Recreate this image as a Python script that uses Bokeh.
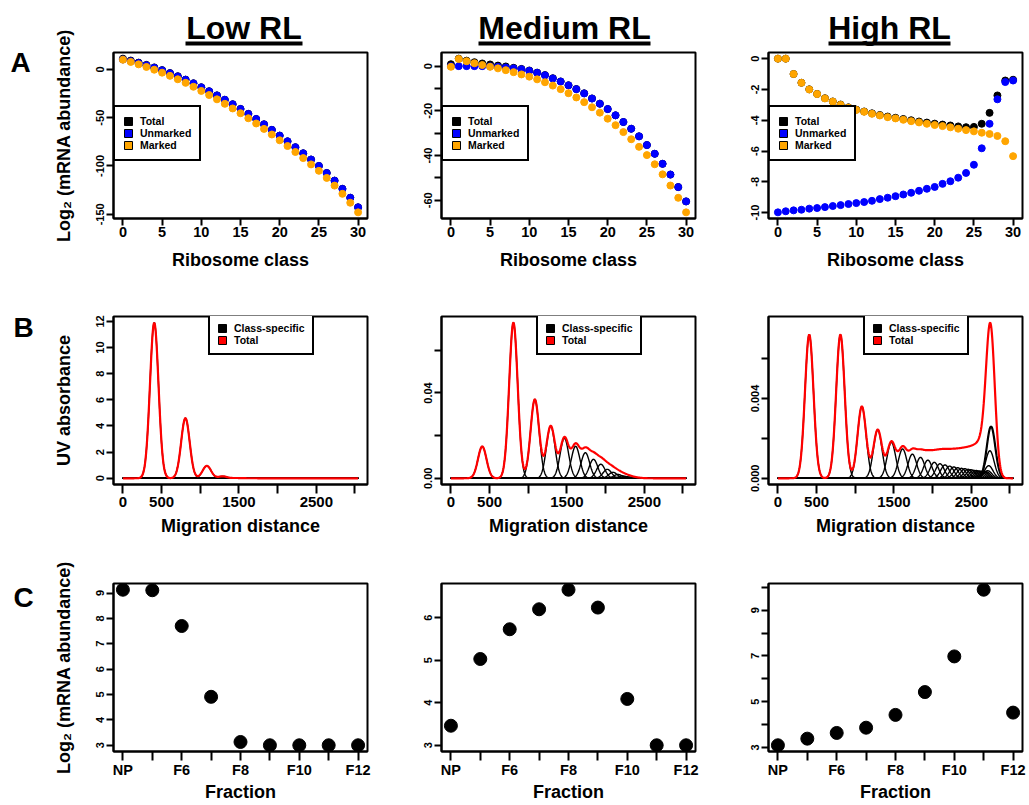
import numpy as np
from bokeh.plotting import figure
from bokeh.models import Range1d, FixedTicker, Legend, LegendItem
from bokeh.core.properties import value
from bokeh.layouts import column, row
from bokeh.embed import file_html
from bokeh.resources import INLINE

FONT = "Liberation Sans"

# ---------------- Row A: log2 abundance per ribosome class ----------------
ribosome_class = list(range(31))

low_total = [11.1, 9.15, 6.99, 4.64, 2.05, -0.75, -3.79, -7.08, -10.6, -14.38, -18.49,
             -22.6, -26.91, -31.42, -36.08, -40.93, -46.04, -51.34, -56.85, -62.6, -68.55,
             -74.45, -80.55, -86.85, -93.3, -99.95, -107.25, -115.15, -123.65, -132.85, -142.75]
low_unmarked = [10.2, 8.5, 6.5, 4.25, 1.75, -1.0, -4.0, -7.25, -10.75, -14.5, -18.6,
                -22.7, -27.0, -31.5, -36.15, -41.0, -46.1, -51.4, -56.9, -62.65, -68.6,
                -74.5, -80.6, -86.9, -93.35, -100.0, -107.3, -115.2, -123.7, -132.9, -142.8]
low_marked = [10.0, 7.7, 5.2, 2.55, -0.35, -3.4, -6.7, -10.25, -13.95, -18.0, -22.3,
              -26.55, -31.0, -35.65, -40.45, -45.4, -50.6, -56.0, -61.6, -67.4, -73.4,
              -79.35, -85.5, -91.85, -98.35, -105.0, -112.35, -120.3, -128.8, -138.05, -148.0]

med_total = [0.86, 3.35, 2.45, 1.75, 1.2, 0.75, 0.25, -0.15, -0.75, -1.25, -1.95,
             -2.9, -4.0, -5.4, -6.85, -8.55, -10.25, -12.15, -14.45, -16.8, -19.2,
             -22.0, -25.0, -28.0, -31.4, -35.3, -39.2, -43.7, -48.5, -54.1, -60.5]
med_unmarked = [0.0, 0.0, 0.0, 0.0, 0.0, -0.1, -0.3, -0.6, -1.0, -1.4, -2.1,
                -3.0, -4.1, -5.5, -6.9, -8.6, -10.3, -12.2, -14.5, -16.8, -19.2,
                -22.0, -25.0, -28.0, -31.4, -35.3, -39.2, -43.7, -48.5, -54.1, -60.5]
med_marked = [-0.3, 3.2, 2.2, 1.3, 0.5, -0.3, -1.0, -1.8, -2.7, -3.7, -4.7,
              -5.9, -7.2, -8.7, -10.3, -12.1, -14.0, -16.1, -18.4, -20.8, -23.5,
              -26.4, -29.5, -32.7, -36.1, -39.8, -43.9, -48.4, -53.4, -58.9, -65.4]

high_total = [0.0, 0.0, -0.997, -1.566, -1.993, -2.29, -2.57, -2.78, -2.98, -3.16, -3.31,
              -3.43, -3.55, -3.66, -3.76, -3.84, -3.92, -4.0, -4.08, -4.15, -4.22,
              -4.28, -4.34, -4.40, -4.45, -4.43, -4.23, -3.52, -2.39, -1.42, -1.37]
high_unmarked = [-9.98, -9.91, -9.85, -9.81, -9.74, -9.70, -9.64, -9.57, -9.51, -9.44, -9.38,
                 -9.31, -9.23, -9.12, -9.03, -8.93, -8.82, -8.71, -8.58, -8.45, -8.33,
                 -8.13, -7.96, -7.73, -7.42, -6.89, -5.82, -4.23, -2.64, -1.52, -1.42]
high_marked = [0.0, 0.0, -1.0, -1.57, -2.0, -2.3, -2.58, -2.79, -3.0, -3.18, -3.33,
               -3.45, -3.58, -3.69, -3.8, -3.88, -3.97, -4.06, -4.14, -4.23, -4.31,
               -4.38, -4.46, -4.55, -4.64, -4.72, -4.81, -4.89, -5.02, -5.36, -6.33]

# ---------------- Row B: simulated UV profiles (one peak per class) ----------------
class_position = [405, 808, 1085, 1290, 1467, 1612, 1738, 1843, 1938, 2022, 2095,
                  2160, 2220, 2275, 2326, 2373, 2417, 2458, 2496, 2531, 2563,
                  2593, 2620, 2645, 2668, 2690, 2710, 2725, 2740, 2750, 2760]
peak_sd = 55
migration_max = 3040

low_peak = [11.9, 4.6, 0.95, 0.15, 0.02, 0.003, 0.0, 0.0, 0.0, 0.0, 0.0,
            0.0, 0.0, 0.0, 0.0, 0.0, 0.0, 0.0, 0.0, 0.0, 0.0,
            0.0, 0.0, 0.0, 0.0, 0.0, 0.0, 0.0, 0.0, 0.0, 0.0]
med_peak = [0.0149, 0.073, 0.037, 0.0245, 0.0188, 0.015, 0.012, 0.0089, 0.0066, 0.0042, 0.0028,
            0.0018, 0.0011, 0.0007, 0.0004, 0.0002, 0.0001, 0.00005, 0.0, 0.0, 0.0,
            0.0, 0.0, 0.0, 0.0, 0.0, 0.0, 0.0, 0.0, 0.0, 0.0]
high_peak = [0.0072, 0.0072, 0.0036, 0.00243, 0.0018, 0.00147, 0.00121, 0.00105, 0.00091, 0.0008, 0.00073,
             0.00067, 0.00061, 0.00057, 0.00053, 0.0005, 0.00048, 0.00045, 0.00043, 0.0004, 0.00039,
             0.00037, 0.00036, 0.00034, 0.00033, 0.00033, 0.00038, 0.00063, 0.00138, 0.0026, 0.0026]

# ---------------- Row C: measured fractions ----------------
fractions = ["NP", "F5", "F6", "F7", "F8", "F9", "F10", "F11", "F12"]
fraction_shown = ["NP", "", "F6", "", "F8", "", "F10", "", "F12"]
low_fraction = [9.13, 9.11, 7.7, 4.91, 3.13, 3.0, 3.0, 3.0, 3.0]
med_fraction = [3.46, 5.03, 5.73, 6.2, 6.66, 6.24, 4.09, 3.0, 3.0]
high_fraction = [3.09, 3.38, 3.63, 3.86, 4.42, 5.42, 6.98, 9.9, 4.52]

# ---------------- ticks ----------------
a_xticks = [0, 5, 10, 15, 20, 25, 30]
a_yticks = [[-150, -100, -50, 0], [-60, -50, -40, -30, -20, -10, 0], [-10, -8, -6, -4, -2, 0]]
a_ylabels = [["-150", "-100", "-50", "0"], ["-60", "", "-40", "", "-20", "", "0"],
             ["-10", "-8", "-6", "-4", "-2", "0"]]
b_xticks = [0, 500, 1000, 1500, 2000, 2500, 3000]
b_xlabels = ["0", "500", "", "1500", "", "2500", ""]
b_yticks = [[0, 2, 4, 6, 8, 10, 12], [0, 0.02, 0.04, 0.06], [0, 0.002, 0.004, 0.006]]
b_ylabels = [["0", "2", "4", "6", "8", "10", "12"], ["0.00", "", "0.04", ""], ["0.000", "", "0.004", ""]]
c_yticks = [[3, 4, 5, 6, 7, 8, 9], [3, 4, 5, 6], [3, 4, 5, 6, 7, 8, 9, 10]]
c_ylabels = [["3", "4", "5", "6", "7", "8", "9"], ["3", "4", "5", "6"], ["3", "", "5", "", "7", "", "9", ""]]

titles = ["Low RL", "Medium RL", "High RL"]
panel_letters = ["A", "B", "C"]
row_ylabels = ["Log\u2082 (mRNA abundance)", "UV absorbance", "Log\u2082 (mRNA abundance)"]

# ---------------- layout geometry (page pixels) ----------------
PAGE_W, PAGE_H, HEADER_H, STRIP_W = 1029, 805, 48, 80
col_w = [320, 330, 299]
col_l = [33, 41, 38]
col_r = [33, 35, 7]
row_h = [232, 270, 255]
row_t = [4, 36, 33]
row_b = [62, 66, 54]
x_tick_out = [7, 9, 9]
x_lab_stand = [1, 3, 1]
x_title_stand = [10, 6, 1]
x_tick_font = ["14.5px", "15px", "14.5px"]
# text anchors (the svg text is drawn centred on its anchor)
title_cx = [243.5, 564, 889]
title_cy = 27
title_span = [(185, 302), (478, 650), (828, 950)]
uline_top, uline_bot = 41, 45
letter_cx = [20, 23, 23]
letter_cy = [62, 327, 597]
ylabel_x = 63
ylabel_cy = [135, 400, 667]


def padded(lo, hi):
    s = hi - lo
    return (lo - 0.04 * s, hi + 0.04 * s)


def make_fig(r, c, xr, yr):
    p = figure(width=col_w[c], height=row_h[r], x_range=Range1d(*xr), y_range=Range1d(*yr),
               output_backend="svg", toolbar_location=None, title=None,
               min_border_left=col_l[c], min_border_right=col_r[c],
               min_border_top=row_t[r], min_border_bottom=row_b[r])
    p.xgrid.visible = False
    p.ygrid.visible = False
    p.outline_line_color = "black"
    p.outline_line_width = 2
    p.outline_line_alpha = 1
    p.background_fill_color = "white"
    p.border_fill_color = "white"
    for ax in (p.xaxis[0], p.yaxis[0]):
        ax.axis_line_color = "black"
        ax.axis_line_width = 2
        ax.major_tick_line_color = "black"
        ax.major_tick_line_width = 2
        ax.major_tick_in = 0
        ax.minor_tick_line_color = None
        ax.major_label_text_font = FONT
        ax.major_label_text_font_style = "bold"
        ax.major_label_text_color = "black"
        ax.axis_label_text_font = FONT
        ax.axis_label_text_font_style = "bold"
        ax.axis_label_text_font_size = "18px"
        ax.axis_label_text_color = "black"
    xa = p.xaxis[0]
    xa.major_label_text_font_size = x_tick_font[r]
    xa.major_tick_out = x_tick_out[r]
    xa.major_label_standoff = x_lab_stand[r]
    xa.axis_label_standoff = x_title_stand[r]
    ya = p.yaxis[0]
    ya.major_label_text_font_size = "11px"
    ya.major_label_orientation = "vertical"
    ya.major_tick_out = 7
    ya.major_label_standoff = 2
    return p


def set_ticks(axis, ticks, labels):
    axis.ticker = FixedTicker(ticks=ticks)
    axis.major_label_overrides = {t: l for t, l in zip(ticks, labels)}


def add_legend(p, entries, loc, pad):
    items = []
    for lab, colr in entries:
        rr = p.quad(left=[np.nan], right=[np.nan], top=[np.nan], bottom=[np.nan],
                    fill_color=colr, line_color="black", line_width=1)
        items.append(LegendItem(label=lab, renderers=[rr]))
    leg = Legend(items=items, location=loc, orientation="vertical", padding=pad, spacing=0,
                 margin=0, glyph_width=10, glyph_height=10, label_height=12, label_standoff=7,
                 label_text_font=FONT, label_text_font_style="bold", label_text_font_size="10.5px",
                 label_text_color="black", border_line_color="black", border_line_width=2,
                 border_line_alpha=1, background_fill_color="white", background_fill_alpha=1)
    p.add_layout(leg)


def blank_fig(w, h):
    p = figure(width=w, height=h, x_range=Range1d(0, w), y_range=Range1d(0, h),
               output_backend="svg", toolbar_location=None, title=None,
               min_border=0, min_border_left=0, min_border_right=0,
               min_border_top=0, min_border_bottom=0)
    p.axis.visible = False
    p.xgrid.visible = False
    p.ygrid.visible = False
    p.outline_line_color = None
    p.background_fill_color = "white"
    p.border_fill_color = "white"
    return p


# ---------------- header with column titles (x from STRIP_W, y measured from top) ----------------
header = blank_fig(PAGE_W - STRIP_W, HEADER_H)
header.text(x=[cx - STRIP_W for cx in title_cx], y=[HEADER_H - title_cy] * 3, text=titles,
            text_font=value(FONT), text_font_style="bold", text_font_size="32px",
            text_align="center", text_baseline="alphabetic", text_color="black")
header.quad(left=[s[0] - STRIP_W for s in title_span], right=[s[1] - STRIP_W for s in title_span],
            top=[HEADER_H - uline_top] * 3, bottom=[HEADER_H - uline_bot] * 3,
            fill_color="black", line_color=None)

# ---------------- left strip: panel letters and row y-axis titles ----------------
strip = blank_fig(STRIP_W, PAGE_H)
strip.text(x=letter_cx, y=[PAGE_H - b for b in letter_cy], text=panel_letters,
           text_font=value(FONT), text_font_style="bold", text_font_size="28px",
           text_align="center", text_baseline="alphabetic", text_color="black")
strip.text(x=[ylabel_x] * 3, y=[PAGE_H - cy for cy in ylabel_cy], text=row_ylabels,
           angle=np.pi / 2, text_font=value(FONT), text_font_style="bold", text_font_size="18px",
           text_align="center", text_baseline="alphabetic", text_color="black")

# ---------------- Row A figures ----------------
a_sets = [(low_total, low_unmarked, low_marked), (med_total, med_unmarked, med_marked),
          (high_total, high_unmarked, high_marked)]
row_a = []
for c, (tot, unm, mar) in enumerate(a_sets):
    allv = tot + unm + mar
    p = make_fig(0, c, padded(0, 30), padded(min(allv), max(allv)))
    p.scatter(ribosome_class, tot, size=7, color="black")
    p.scatter(ribosome_class, unm, size=7, color="blue")
    p.scatter(ribosome_class, mar, size=7, color="orange")
    set_ticks(p.xaxis[0], a_xticks, [str(t) for t in a_xticks])
    set_ticks(p.yaxis[0], a_yticks[c], a_ylabels[c])
    p.xaxis[0].axis_label = "Ribosome class"
    add_legend(p, [("Total", "black"), ("Unmarked", "blue"), ("Marked", "orange")], (0, 57), 8)
    row_a.append(p)

# ---------------- Row B figures ----------------
xs = np.arange(0, migration_max + 1, 5)
b_sets = [low_peak, med_peak, high_peak]
row_bf = []
for c, heights in enumerate(b_sets):
    curves = [h * np.exp(-0.5 * ((xs - pos) / peak_sd) ** 2)
              for pos, h in zip(class_position, heights)]
    total = np.sum(curves, axis=0)
    p = make_fig(1, c, padded(0, migration_max), padded(0, float(total.max())))
    p.multi_line(xs=[xs.tolist()] * len(curves), ys=[cv.tolist() for cv in curves],
                 line_color="black", line_width=1.4)
    p.line(xs, total, line_color="red", line_width=2.2)
    set_ticks(p.xaxis[0], b_xticks, b_xlabels)
    set_ticks(p.yaxis[0], b_yticks[c], b_ylabels[c])
    p.xaxis[0].axis_label = "Migration distance"
    fh = row_h[1] - row_t[1] - row_b[1]
    add_legend(p, [("Class-specific", "black"), ("Total", "red")], (95, fh - 39), 7)
    row_bf.append(p)

# ---------------- Row C figures ----------------
c_sets = [low_fraction, med_fraction, high_fraction]
frac_x = list(range(1, len(fractions) + 1))
row_cf = []
for c, vals in enumerate(c_sets):
    p = make_fig(2, c, padded(1, len(fractions)), padded(min(vals), max(vals)))
    p.scatter(frac_x, vals, size=13, color="black")
    set_ticks(p.xaxis[0], frac_x, fraction_shown)
    set_ticks(p.yaxis[0], c_yticks[c], c_ylabels[c])
    p.xaxis[0].axis_label = "Fraction"
    row_cf.append(p)

body = column(header, row(*row_a), row(*row_bf), row(*row_cf))
layout = row(strip, body)
open("out.html", "w").write(file_html(layout, INLINE))
